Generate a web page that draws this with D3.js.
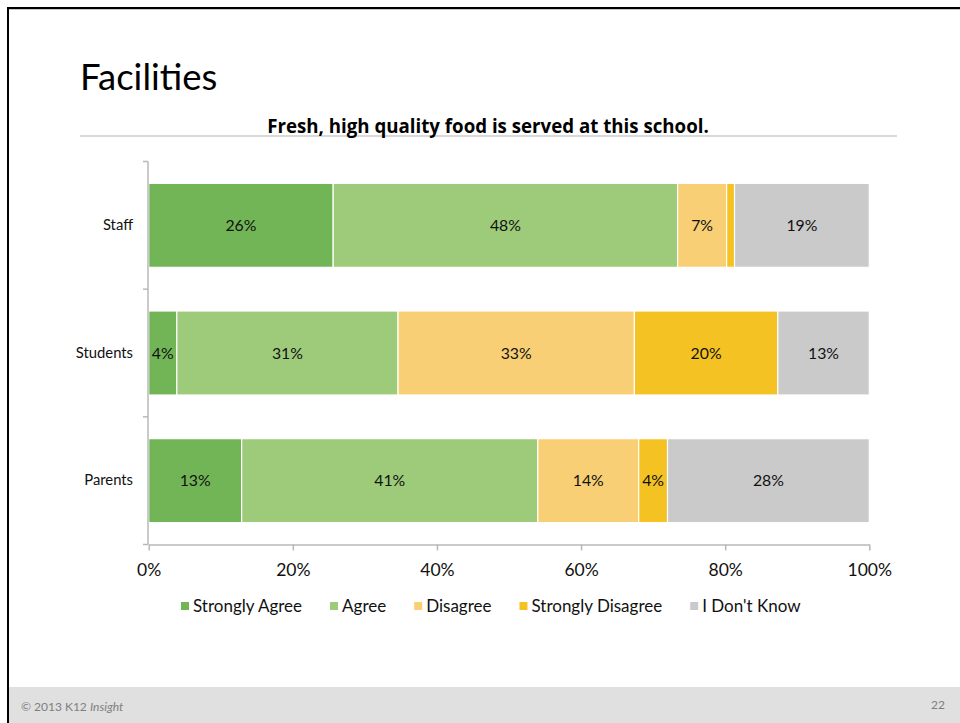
<!DOCTYPE html>
<html>
<head>
<meta charset="utf-8">
<script src="https://cdn.jsdelivr.net/npm/d3@7"></script>
<style>
  html, body { margin: 0; padding: 0; background: #fff; }
  svg { display: block; font-family: Lato, "Open Sans", sans-serif; }
</style>
</head>
<body>
<svg id="chart" width="960" height="723"></svg>
<script>
// ---- data ----
const categories = ["Staff", "Students", "Parents"];
const seriesNames = ["Strongly Agree", "Agree", "Disagree", "Strongly Disagree", "I Don't Know"];
const stronglyAgree    = [25.6, 3.9, 12.9];
const agree            = [47.8, 30.7, 41.1];
const disagree         = [6.8, 32.8, 14.0];
const stronglyDisagree = [1.1, 19.9, 4.0];
const dontKnow         = [18.7, 12.7, 28.0];
const xTicks = [0, 20, 40, 60, 80, 100];
const titleText = "Facilities";
const subtitleText = "Fresh, high quality food is served at this school.";

const colors = ["#71b556", "#9dcb7a", "#f8cf74", "#f5c223", "#cacaca"];
const seriesValues = [stronglyAgree, agree, disagree, stronglyDisagree, dontKnow];

const rows = categories.map((c, i) => {
  const r = { category: c };
  seriesNames.forEach((s, j) => r[s] = seriesValues[j][i]);
  return r;
});
const stacked = d3.stack().keys(seriesNames)(rows);

const svg = d3.select("#chart");

// slide frame
svg.append("rect").attr("x", 0).attr("y", 0).attr("width", 960).attr("height", 723).attr("fill", "#fff");
svg.append("rect").attr("x", 8).attr("y", 687).attr("width", 952).attr("height", 36).attr("fill", "#e0e0e0");
svg.append("line").attr("x1", 7).attr("x2", 960).attr("y1", 9.5).attr("y2", 9.5).attr("stroke", "#c8c8c8").attr("stroke-width", 1);
svg.append("line").attr("x1", 7).attr("x2", 960).attr("y1", 8).attr("y2", 8).attr("stroke", "#000").attr("stroke-width", 2);
svg.append("line").attr("x1", 8).attr("x2", 8).attr("y1", 7).attr("y2", 723).attr("stroke", "#000").attr("stroke-width", 2);

// title
svg.append("text").attr("x", 80).attr("y", 90).attr("font-size", 36.5).attr("fill", "#000").text(titleText);
svg.append("line").attr("x1", 80).attr("x2", 897).attr("y1", 136).attr("y2", 136).attr("stroke", "#d9d9d9").attr("stroke-width", 2);
const sub = svg.append("text").attr("x", 488).attr("y", 133).attr("text-anchor", "middle")
  .attr("font-family", "'Open Sans', sans-serif")
  .attr("font-size", 18).attr("font-weight", "bold").attr("fill", "#000").text(subtitleText);
const subW = sub.node().getComputedTextLength();
sub.attr("font-size", 18 * 442 / subW);

// scales
const x = d3.scaleLinear().domain([0, 100]).range([148.7, 869.3]);
const y = d3.scaleBand().domain(categories).range([161.5, 544.5]).paddingInner(0.342).paddingOuter(0.171);

const axisColor = "#b8b8b8";

// bars
const g = svg.append("g");
stacked.forEach((layer, j) => {
  g.selectAll(null).data(layer).join("rect")
    .attr("x", d => x(d[0]))
    .attr("y", d => y(d.data.category))
    .attr("width", d => x(d[1]) - x(d[0]))
    .attr("height", y.bandwidth())
    .attr("fill", colors[j])
    .attr("stroke", "#fff")
    .attr("stroke-width", 1.2);
  g.selectAll(null).data(layer.filter(d => d[1] - d[0] >= 2)).join("text")
    .attr("x", d => (x(d[0]) + x(d[1])) / 2)
    .attr("y", d => y(d.data.category) + y.bandwidth() / 2)
    .attr("dy", "0.35em")
    .attr("text-anchor", "middle")
    .attr("font-size", 15.8)
    .attr("fill", "#111")
    .text(d => Math.round(d[1] - d[0]) + "%");
});

// x axis
const xAxis = svg.append("g").attr("transform", "translate(0,544.5)")
  .call(d3.axisBottom(x).tickValues(xTicks).tickFormat(d => d + "%").tickSize(6).tickSizeOuter(0));
xAxis.select(".domain").attr("stroke", axisColor).attr("stroke-width", 1.5);
xAxis.selectAll(".tick line").attr("stroke", axisColor).attr("stroke-width", 1.5);
xAxis.selectAll(".tick text").attr("font-size", 17.5).attr("fill", "#111").attr("font-family", "Lato")
  .attr("y", 25.5).attr("dy", "0.35em");

// y axis
const yAxis = svg.append("g").attr("transform", "translate(148,0)")
  .call(d3.axisLeft(y).tickSize(0).tickPadding(15));
yAxis.select(".domain").attr("stroke", axisColor).attr("stroke-width", 1.5)
  .attr("d", "M0," + 161.5 + "V" + 544.5);
yAxis.selectAll(".tick text").attr("font-size", 14.8).attr("fill", "#111").attr("font-family", "Lato");
// band separator ticks
const bounds = categories.map(c => y(c) - y.step() * y.paddingInner() / 2).concat([544.5]);
yAxis.selectAll(".sep").data(bounds).join("line").attr("class", "sep")
  .attr("x1", -5).attr("x2", 0).attr("y1", d => d).attr("y2", d => d)
  .attr("stroke", axisColor).attr("stroke-width", 1.5);

// legend
const legend = svg.append("g").attr("transform", "translate(0,606)");
let lx = 181;
seriesNames.forEach((s, j) => {
  const item = legend.append("g").attr("transform", `translate(${lx},0)`);
  item.append("rect").attr("x", 0).attr("y", -4).attr("width", 8).attr("height", 8).attr("fill", colors[j]);
  const t = item.append("text").attr("x", 12).attr("dy", "0.35em").attr("font-size", 17).attr("fill", "#111").text(s);
  lx += 12 + t.node().getComputedTextLength() + 28;
});

// footer
const ft = svg.append("text").attr("x", 21).attr("y", 711).attr("font-size", 12).attr("fill", "#7f7f7f");
ft.append("tspan").text("© 2013 K12 ");
ft.append("tspan").attr("font-style", "italic").text("Insight");
svg.append("text").attr("x", 945).attr("y", 709).attr("text-anchor", "end").attr("font-size", 12).attr("fill", "#7f7f7f").text("22");
</script>
</body>
</html>
